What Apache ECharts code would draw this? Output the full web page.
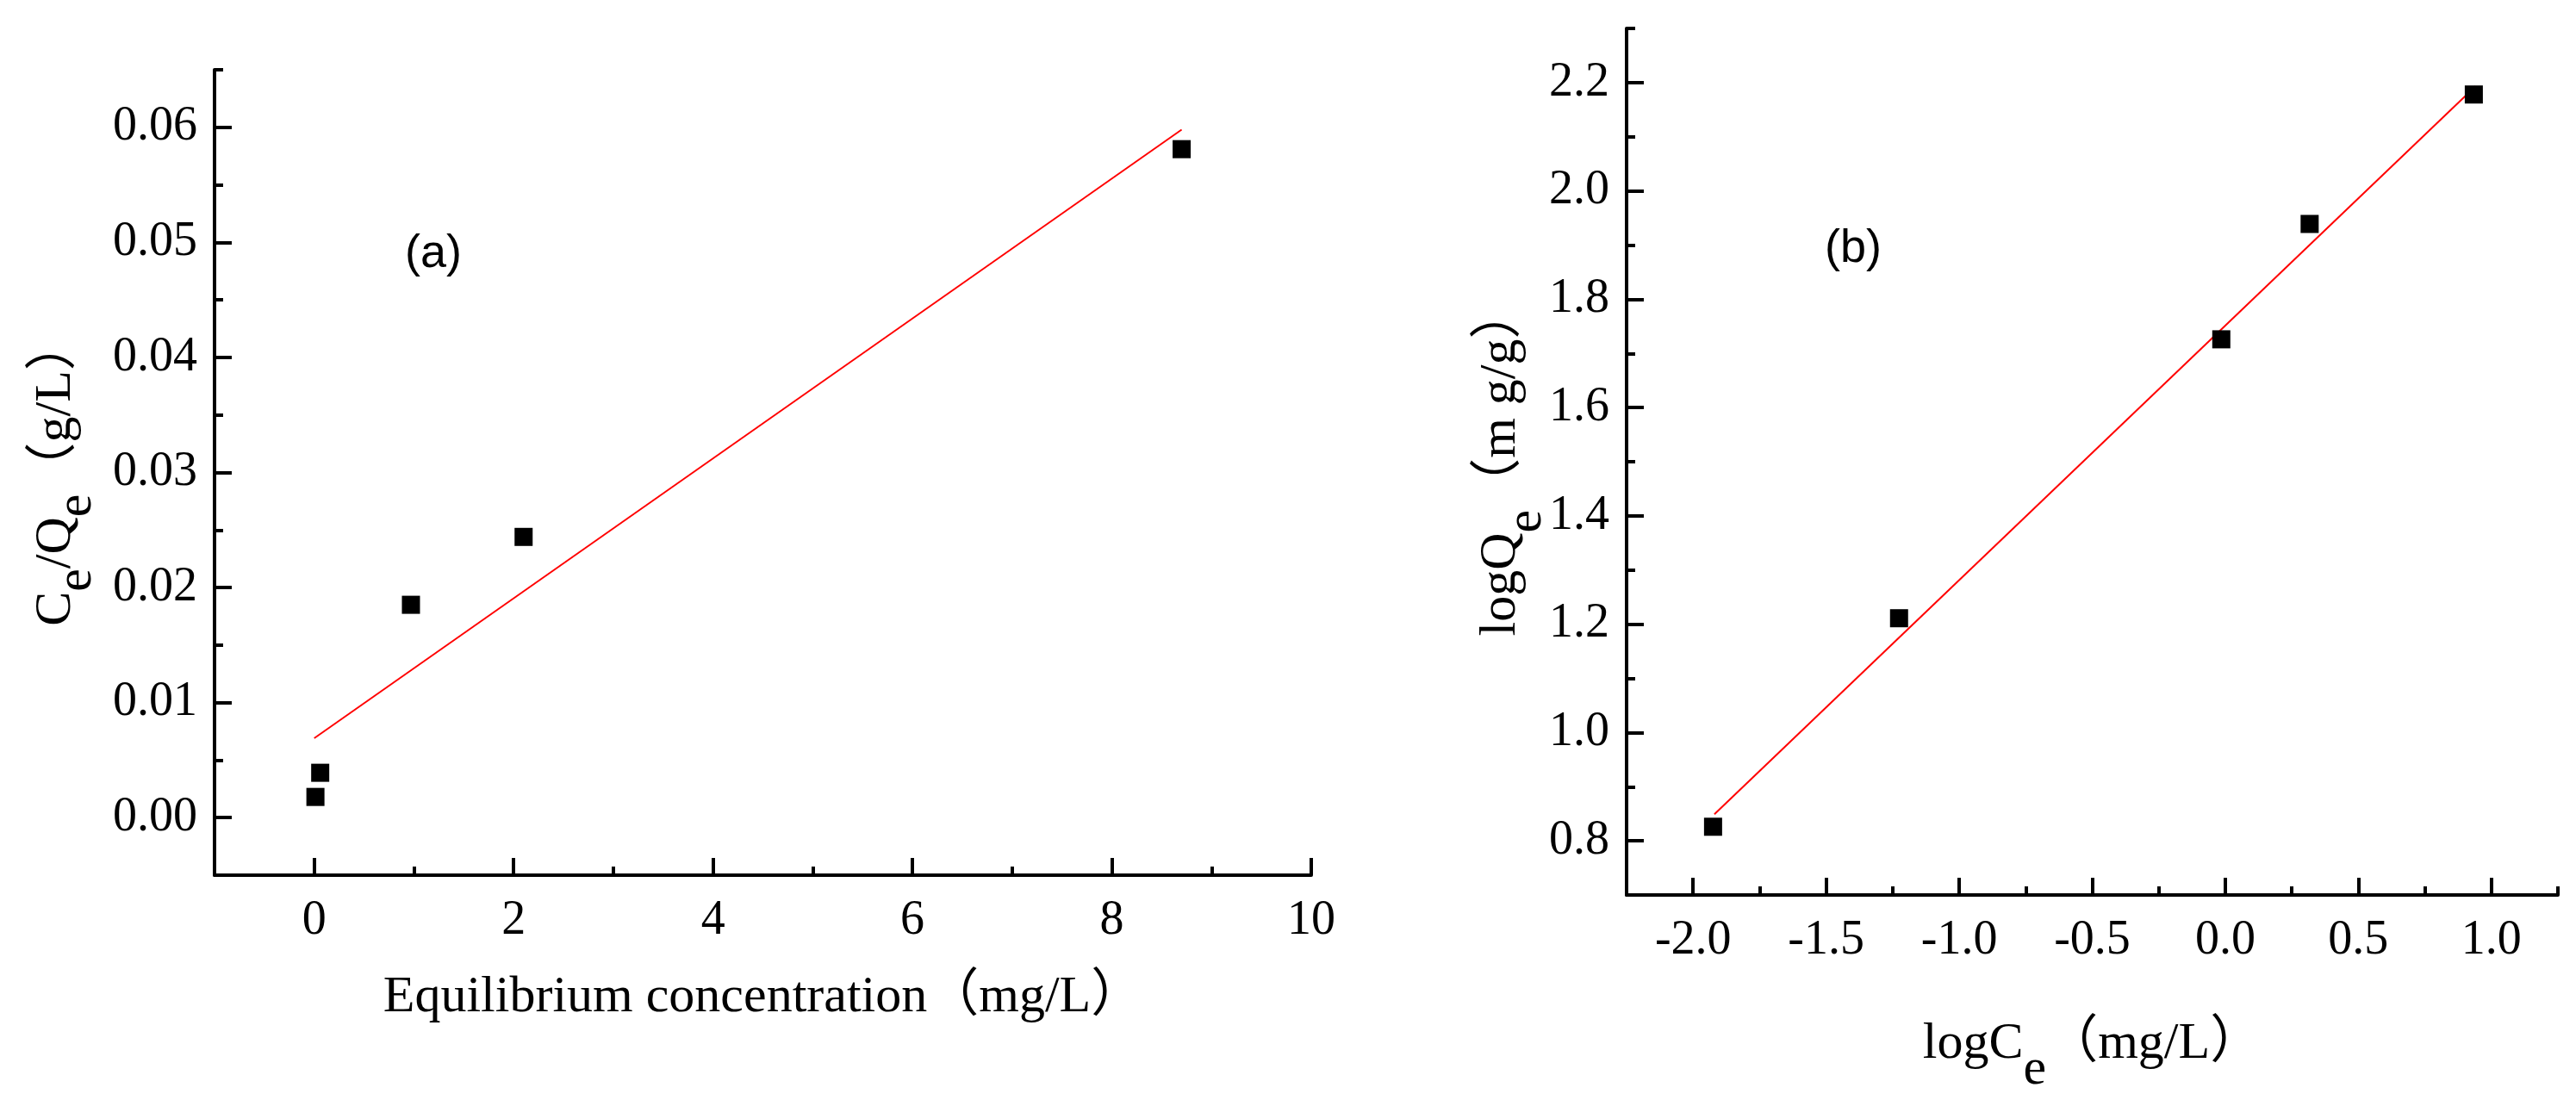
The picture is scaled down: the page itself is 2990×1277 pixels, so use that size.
<!DOCTYPE html>
<html>
<head>
<meta charset="utf-8">
<script src="https://cdn.jsdelivr.net/npm/echarts@6/dist/echarts.min.js"></script>
<style>
html, body { margin: 0; padding: 0; background: #fff; }
#main { width: 2990px; height: 1277px; }
</style>
</head>
<body>
<div id="main"></div>
<script>
// ---- Panel (a): Langmuir-type plot ----
const aCe = [0.012, 0.06, 0.97, 2.1, 8.7];
const aCeQe = [0.0018, 0.0039, 0.0185, 0.0244, 0.0581];
const aFitX = [0.0, 8.7];
const aFitY = [0.0069, 0.0598];
const aXMajor = [0, 2, 4, 6, 8, 10];
const aXMinor = [-1, 1, 3, 5, 7, 9];
const aYMajor = [0.00, 0.01, 0.02, 0.03, 0.04, 0.05, 0.06];
const aYMinor = [-0.005, 0.005, 0.015, 0.025, 0.035, 0.045, 0.055, 0.065];

// ---- Panel (b): Freundlich-type plot ----
const bLogCe = [-1.925, -1.226, -0.015, 0.317, 0.934];
const bLogQe = [0.826, 1.211, 1.726, 1.939, 2.178];
const bFitX = [-1.92, 0.94];
const bFitY = [0.849, 2.193];
const bXMajor = [-2.0, -1.5, -1.0, -0.5, 0.0, 0.5, 1.0];
const bXMinor = [-2.25, -1.75, -1.25, -0.75, -0.25, 0.25, 0.75, 1.25];
const bYMajor = [0.8, 1.0, 1.2, 1.4, 1.6, 1.8, 2.0, 2.2];
const bYMinor = [0.7, 0.9, 1.1, 1.3, 1.5, 1.7, 1.9, 2.1, 2.3];

const SERIF = "'Liberation Serif', 'Times New Roman', 'Noto Sans CJK SC', serif";
const BLACK = '#000';
const LINE_W = 4;

function pairs(xs, ys) { return xs.map((x, i) => [x, ys[i]]); }

function richName(lh) {
  return {
    n: { fontFamily: SERIF, fontSize: 60, color: BLACK, lineHeight: lh, verticalAlign: 'top' },
    s: { fontFamily: SERIF, fontSize: 60, color: BLACK, lineHeight: lh, verticalAlign: 'bottom' }
  };
}

function majorAxis(opts) {
  return Object.assign({
    type: 'value',
    axisLine: { show: true, onZero: false, lineStyle: { color: BLACK, width: LINE_W } },
    axisTick: { show: true, inside: true, length: 20, customValues: opts.ticks, lineStyle: { color: BLACK, width: LINE_W } },
    axisLabel: {
      show: true, customValues: opts.ticks, margin: opts.margin,
      fontFamily: SERIF, fontSize: 56, color: BLACK,
      formatter: opts.fmt
    },
    splitLine: { show: false },
    nameLocation: 'middle',
    nameMoveOverlap: false
  }, opts.extra);
}

function minorAxis(opts) {
  return Object.assign({
    type: 'value',
    axisLine: { show: false, onZero: false },
    axisTick: { show: true, inside: true, length: 10, customValues: opts.ticks, lineStyle: { color: BLACK, width: LINE_W } },
    axisLabel: { show: false },
    splitLine: { show: false }
  }, opts.extra);
}

const chart = echarts.init(document.getElementById('main'), null, { renderer: 'canvas' });

const option = {
  backgroundColor: '#fff',
  animation: false,
  title: [
    { text: '(a)', left: 470, top: 268, padding: 0,
      textStyle: { fontFamily: "'Liberation Sans', Arial, sans-serif", fontSize: 54, fontWeight: 'normal', color: BLACK } },
    { text: '(b)', left: 2118, top: 262, padding: 0,
      textStyle: { fontFamily: "'Liberation Sans', Arial, sans-serif", fontSize: 54, fontWeight: 'normal', color: BLACK } }
  ],
  grid: [
    { left: 249, top: 81, width: 1273, height: 935, containLabel: false },
    { left: 1888, top: 33, width: 1081, height: 1009, containLabel: false }
  ],
  xAxis: [
    majorAxis({ ticks: aXMajor, margin: 25, fmt: v => String(Math.round(v)),
      extra: { gridIndex: 0, position: 'bottom', min: -1, max: 10,
        name: 'Equilibrium concentration（mg/L）', nameGap: 112,
        nameTextStyle: { fontFamily: SERIF, fontSize: 60, color: BLACK } } }),
    minorAxis({ ticks: aXMinor, extra: { gridIndex: 0, position: 'bottom', min: -1, max: 10 } }),
    majorAxis({ ticks: bXMajor, margin: 25, fmt: v => v.toFixed(1),
      extra: { gridIndex: 1, position: 'bottom', min: -2.25, max: 1.25,
        name: '{n|logC}{s|e}{n|（mg/L）}', nameGap: 143,
        nameTextStyle: { rich: richName(90) } } }),
    minorAxis({ ticks: bXMinor, extra: { gridIndex: 1, position: 'bottom', min: -2.25, max: 1.25 } })
  ],
  yAxis: [
    majorAxis({ ticks: aYMajor, margin: 20, fmt: v => v.toFixed(2),
      extra: { gridIndex: 0, position: 'left', min: -0.005, max: 0.065,
        name: '{n|C}{s|e}{n|/Q}{s|e}{n|（g/L）}', nameGap: 130, nameRotate: 90,
        nameTextStyle: { rich: richName(84) } } }),
    minorAxis({ ticks: aYMinor, extra: { gridIndex: 0, position: 'left', min: -0.005, max: 0.065 } }),
    majorAxis({ ticks: bYMajor, margin: 20, fmt: v => v.toFixed(1),
      extra: { gridIndex: 1, position: 'left', min: 0.7, max: 2.3,
        name: '{n|logQ}{s|e}{n|（m g/g）}', nameGap: 86, nameRotate: 90,
        nameTextStyle: { rich: richName(90) } } }),
    minorAxis({ ticks: bYMinor, extra: { gridIndex: 1, position: 'left', min: 0.7, max: 2.3 } })
  ],
  series: [
    { type: 'line', xAxisIndex: 0, yAxisIndex: 0, data: pairs(aFitX, aFitY),
      showSymbol: false, symbol: 'none', lineStyle: { color: '#ff0000', width: 2 }, z: 2 },
    { type: 'scatter', xAxisIndex: 0, yAxisIndex: 0, data: pairs(aCe, aCeQe),
      symbol: 'rect', symbolSize: 21, itemStyle: { color: BLACK, opacity: 1 }, z: 3 },
    { type: 'line', xAxisIndex: 2, yAxisIndex: 2, data: pairs(bFitX, bFitY),
      showSymbol: false, symbol: 'none', lineStyle: { color: '#ff0000', width: 2 }, z: 2 },
    { type: 'scatter', xAxisIndex: 2, yAxisIndex: 2, data: pairs(bLogCe, bLogQe),
      symbol: 'rect', symbolSize: 21, itemStyle: { color: BLACK, opacity: 1 }, z: 3 }
  ]
};

chart.setOption(option);
</script>
</body>
</html>
